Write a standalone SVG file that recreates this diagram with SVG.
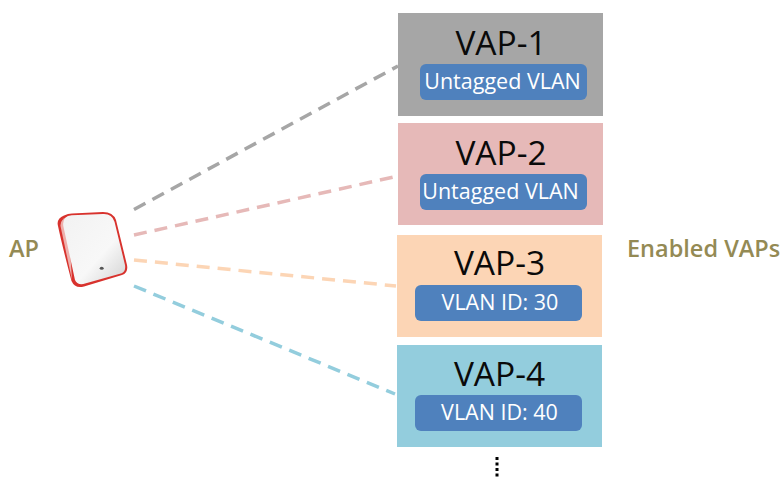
<svg xmlns="http://www.w3.org/2000/svg" width="781" height="477" viewBox="0 0 781 477">
<defs>
<linearGradient id="apFace" x1="0" y1="0" x2="1" y2="1"><stop offset="0" stop-color="#f2f2f2"/><stop offset="0.6" stop-color="#f8f8f8"/><stop offset="1" stop-color="#d2d2d2"/></linearGradient>
</defs>
<style>
text{font-family:"Open Sans","Noto Sans","DejaVu Sans",sans-serif}
.t{font-size:33.500px;fill:#0a0a0a;text-anchor:middle}
.b{fill:#4f81bd}
.l{font-size:21.500px;fill:#fff;text-anchor:middle}
.o{font-size:23.500px;font-weight:600;fill:#948a54}
.c{fill:none;stroke-width:3.500;stroke-dasharray:13 8}
</style>
<rect width="781" height="477" fill="#fff"/>
<g id="connectors">
<line class="c" x1="134" y1="209.500" x2="398" y2="66" stroke="#a6a6a6"/>
<line class="c" x1="134" y1="235" x2="398" y2="176" stroke="#e6b9b8"/>
<line class="c" x1="134" y1="260" x2="396" y2="286" stroke="#fcd5b5"/>
<line class="c" x1="134" y1="286" x2="395" y2="394" stroke="#93cddd"/>
</g>
<g id="ap-label"><text class="o" x="9" y="257">AP</text></g>
<g id="ap">
<path d="M58 226Q56 219 64 215.500Q68 213.500 72 213.500L103 212Q113 212 116 220L127 265Q128.500 273 122 275L84 286.500Q75 289 71.500 281Q62 245 58 226Z" fill="#d8322d"/>
<path d="M60.500 226Q60 219 68 217L72 280Z" fill="#eeb0ac"/>
<path d="M63.300 226Q62 216 71.700 215.200L103 214Q112 213.500 114.500 221.700L125 265Q126 271 121.700 273.300L83.300 284Q77 285 75 280Z" fill="url(#apFace)"/>
<ellipse cx="101.700" cy="268.300" rx="2" ry="1.500" fill="#555"/>
</g>
<g id="vap-1">
<rect x="398" y="13" width="205" height="103" fill="#a6a6a6"/>
<text class="t" x="501" y="55">VAP-1</text>
<rect class="b" x="420" y="64" width="167" height="36" rx="6"/>
<text class="l" x="502.500" y="89">Untagged VLAN</text>
</g>
<g id="vap-2">
<rect x="398" y="123" width="205" height="102" fill="#e6b9b8"/>
<text class="t" x="501" y="165">VAP-2</text>
<rect class="b" x="420" y="174" width="167" height="36" rx="6"/>
<text class="l" x="500.500" y="199">Untagged VLAN</text>
</g>
<g id="vap-3">
<rect x="397" y="235" width="205" height="102" fill="#fcd5b5"/>
<text class="t" x="499.500" y="275">VAP-3</text>
<rect class="b" x="415" y="285" width="167" height="36" rx="6"/>
<text class="l" x="500" y="310">VLAN ID: 30</text>
</g>
<g id="vap-4">
<rect x="397" y="345" width="205" height="102" fill="#93cddd"/>
<text class="t" x="499.500" y="386">VAP-4</text>
<rect class="b" x="415" y="395" width="167" height="36" rx="6"/>
<text class="l" x="499.500" y="420">VLAN ID: 40</text>
</g>
<g id="enabled-label"><text class="o" x="627" y="257">Enabled VAPs</text></g>
<g id="more"><line x1="497" y1="457" x2="497" y2="477" stroke="#000" stroke-width="3" stroke-dasharray="3 2.500"/></g>
</svg>
